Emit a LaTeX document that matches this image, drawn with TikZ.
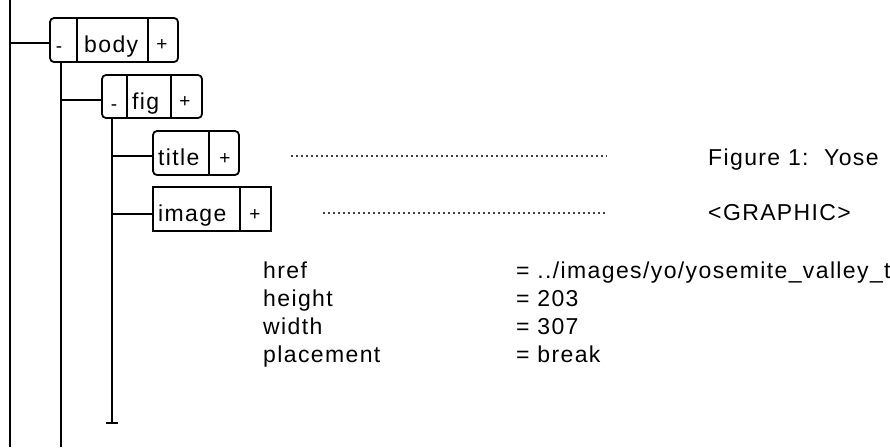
\documentclass[tikz,border=0pt]{standalone}
\usepackage{fontspec}
\setmainfont{Liberation Sans}
\newfontfamily\uifont[LetterSpace=6]{Liberation Sans}
\begin{document}
\begin{tikzpicture}[x=1pt,y=-1pt,
  box/.style={draw, line width=1.8pt, inner sep=0pt, minimum height=44pt},
  rbox/.style={box, rounded corners=4pt},
  lbl/.style={font=\uifont\fontsize{23}{28}\selectfont, inner sep=0pt, anchor=base west},
  sym/.style={font=\uifont\fontsize{19}{23}\selectfont, inner sep=0pt, anchor=base},
  txt/.style={font=\uifont\fontsize{23}{28}\selectfont, inner sep=0pt, anchor=base west},
  conn/.style={line width=1.8pt},
  divider/.style={line width=1.8pt},
  dots/.style={line width=1.6pt, black!75, dash pattern=on 1.6pt off 3.4pt}]
\useasboundingbox (0,0) rectangle (890,447);
\clip (0,0) rectangle (890,447);
% boxes
\node[rbox, minimum width=128pt] (body) at (114,40) {};
\node[rbox, minimum width=100pt, minimum height=43pt] (fig) at (152,96.5) {};
\node[rbox, minimum width=86pt] (title) at (196,153) {};
\node[box, minimum width=118pt] (image) at (212,209) {};
% dividers
\draw[divider] (77,18) -- (77,62) (148,18) -- (148,62);
\draw[divider] (127,75) -- (127,118) (171,75) -- (171,118);
\draw[divider] (209,131) -- (209,175);
\draw[divider] (240,187) -- (240,231);
% labels
\node[sym] (bodym) at (59,52) {-};
\node[lbl] (bodyn) at (84,52) {body};
\node[sym] (bodyp) at (162,50) {+};
\node[sym] (figm) at (114,110) {-};
\node[lbl] (fign) at (132,109) {fig};
\node[sym] (figp) at (185,107) {+};
\node[lbl] (titlen) at (158,165) {title};
\node[sym] (titlep) at (225,164) {+};
\node[lbl] (imagen) at (158,221) {image};
\node[sym] (imagep) at (255,220) {+};
% connectors
\coordinate (l0top) at (10,0);
\coordinate (l0bot) at (10,447);
\coordinate (l1bot) at (61,447);
\coordinate (l2bot) at (112,423);
\coordinate (bodyin) at ([yshift=-3pt]body.west);
\coordinate (figin) at ([yshift=-3.5pt]fig.west);
\coordinate (titlein) at ([yshift=-3pt]title.west);
\coordinate (imagein) at ([yshift=-5pt]image.west);
\draw[conn] (l0top) -- (l0bot);
\draw[conn] (l0top |- bodyin) -- (bodyin);
\draw[conn] (l1bot |- body.south) -- (l1bot);
\draw[conn] (l1bot |- figin) -- (figin);
\draw[conn] (l2bot |- fig.south) -- (l2bot);
\draw[conn] (l2bot |- titlein) -- (titlein);
\draw[conn] (l2bot |- imagein) -- (imagein);
\draw[conn] ([xshift=-6pt]l2bot) -- ([xshift=6pt]l2bot);
% right texts
\node[txt] (figtxt) at (708,165) {Figure 1:\ \ Yose};
\node[txt] (graphic) at (708,220) {<GRAPHIC>};
\coordinate (d1a) at (291,156); \coordinate (d1b) at (607,156);
\coordinate (d2a) at (323,213); \coordinate (d2b) at (607,213);
\draw[dots] (d1a) -- (d1b);
\draw[dots] (d2a) -- (d2b);
% attributes
\node[txt] (a1) at (263,278) {href};
\node[txt] (a2) at (263,306) {height};
\node[txt] (a3) at (263,334) {width};
\node[txt] (a4) at (263,362) {placement};
\node[txt] (v1) at (516,278) {= ../images/yo/yosemite\_valley\_t};
\node[txt] (v2) at (516,306) {= 203};
\node[txt] (v3) at (516,334) {= 307};
\node[txt] (v4) at (516,362) {= break};
\end{tikzpicture}
\end{document}
